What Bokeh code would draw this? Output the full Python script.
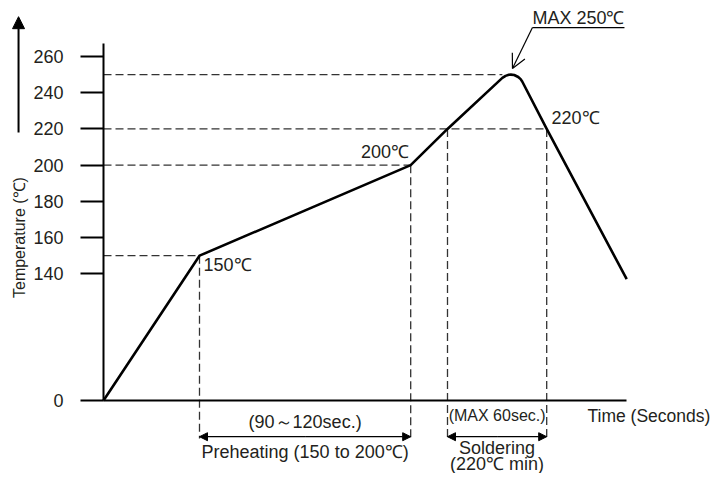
from bokeh.plotting import figure
from bokeh.models import LinearAxis, FixedTicker, Range1d, Arrow, NormalHead, OpenHead
from bokeh.core.properties import value
from bokeh.embed import file_html
from bokeh.resources import INLINE

# ---------------- data ----------------
time_s = [0, 60, 192, 215, 249.3, 251.3, 253.3, 254.6, 256.7, 259.2, 260.7, 261.7, 277, 327]
temp_c = [0, 150, 200, 220, 248.2, 249.3, 249.9, 250, 249.8, 248.7, 247.5, 246.2, 220, 134]
y_tick_values = [0, 140, 160, 180, 200, 220, 240, 260]
y_tick_labels = ["0", "140", "160", "180", "200", "220", "240", "260"]
preheat_times = [60, 192]      # 150 -> 200 C
solder_times = [215, 277]      # above 220 C
peak_time = 254.6
peak_temp = 250
x_axis_end = 327

# broken temperature axis: 0..140 compressed by 2
def disp(t):
    return t / 2 if t <= 140 else t - 70

W, H = 715, 473
KX, KY = 1.6, 1.8105      # px per unit
OX, OY = 103, 400         # canvas position of origin
FONT = value("Liberation Sans")
TXT = "#231f20"
DASH_C = "#333333"

p = figure(width=W, height=H, output_backend="svg", toolbar_location=None,
           x_range=Range1d(-OX / KX, (W - OX) / KX),
           y_range=Range1d((OY - H) / KY, OY / KY),
           x_axis_type=None, y_axis_type=None, min_border=0, title=None)
p.outline_line_color = None
p.background_fill_color = "white"
p.border_fill_color = "white"

# y axis (broken scale)
yax = LinearAxis(fixed_location=0, bounds=(0, 197),
                 ticker=FixedTicker(ticks=[int(disp(v)) for v in y_tick_values]),
                 major_label_overrides={int(disp(v)): lab for v, lab in zip(y_tick_values, y_tick_labels)})
yax.axis_line_width = 2
yax.axis_line_color = "black"
yax.major_tick_line_width = 2
yax.major_tick_line_color = "black"
yax.major_tick_out = 23
yax.major_tick_in = 0
yax.minor_tick_out = 0
yax.minor_tick_in = 0
yax.major_label_standoff = 17
yax.major_label_text_font = "Liberation Sans"
yax.major_label_text_font_size = "18px"
yax.major_label_text_color = TXT
p.add_layout(yax, "left")

xax = LinearAxis(fixed_location=0, bounds=(0, x_axis_end), ticker=FixedTicker(ticks=[]))
xax.axis_line_width = 2
xax.axis_line_color = "black"
xax.major_tick_line_color = None
xax.minor_tick_line_color = None
xax.major_label_text_font_size = "0px"
p.add_layout(xax, "below")

# dashed guide lines
low = -21
t150, t200 = preheat_times
t220a, t220b = solder_times
hx0 = [0, 0, 0, 0]
hx1 = [t150, t200, t220b, 249.3]
hy = [disp(150), disp(200), disp(220), disp(250)]
p.segment(x0=hx0, y0=hy, x1=hx1, y1=hy, line_color=DASH_C, line_width=1.3, line_dash="8 4")
vx = [t150, t200, t220a, t220b]
vy0 = [disp(150), disp(200), disp(220), disp(220)]
p.segment(x0=vx, y0=vy0, x1=vx, y1=[low] * 4, line_color=DASH_C, line_width=1.3, line_dash="8 4")

# profile curve
p.line(time_s, [disp(t) for t in temp_c], line_color="black",
       line_width=2.6, line_join="round")

# duration arrows
for a, b in (preheat_times, solder_times):
    for end in (a, b):
        p.add_layout(Arrow(x_start=(a + b) / 2, y_start=-20, x_end=end, y_end=-20,
                           end=NormalHead(size=8, fill_color="black", line_color="black"),
                           line_width=1.3, line_color="black"))

# MAX 250 leader
pk = disp(peak_temp)
p.segment(x0=[peak_time + 13.5], y0=[pk + 26], x1=[peak_time + 71], y1=[pk + 26],
          line_color="black", line_width=1.2)
p.add_layout(Arrow(x_start=peak_time + 13.5, y_start=pk + 26, x_end=peak_time + 1, y_end=pk + 3.4,
                   end=OpenHead(size=14, line_width=1.2, line_color="black"),
                   line_width=1.2, line_color="black"))

# y direction arrow at left
p.add_layout(Arrow(x_start=-53.1, y_start=148, x_end=-53.1, y_end=212,
                   end=NormalHead(size=12, fill_color="black", line_color="black"),
                   line_width=2, line_color="black"))

# texts
def txt(x, y, s, align="left", size="18px", angle=0):
    p.text(x=[x], y=[y], text=[s], text_font=FONT, text_font_size=size,
           text_align=align, text_baseline="middle", text_color=TXT, angle=angle)

txt(peak_time + 13.5, pk + 31.5, "MAX 250℃")
txt(t220b + 3, disp(220) + 5.8, "220℃")
txt(t200 - 1, disp(200) + 7, "200℃", align="right")
txt(t150 + 2.5, disp(150) - 5.4, "150℃")
txt((t150 + t200) / 2, -11.6, "(90～120sec.)", align="center")
txt((t220a + t220b) / 2, -8.3, "(MAX 60sec.)", align="center", size="16px")
txt(302.5, -8.8, "Time (Seconds)", size="17.5px")
txt((t150 + t200) / 2, -28.7, "Preheating (150 to 200℃)", align="center")
txt((t220a + t220b) / 2, -26.5, "Soldering", align="center")
txt((t220a + t220b) / 2, -34.8, "(220℃ min)", align="center")
txt(-52.8, 90, "Temperature (℃)", align="center", size="16px", angle=1.5708)

open("out.html", "w").write(file_html(p, INLINE))
